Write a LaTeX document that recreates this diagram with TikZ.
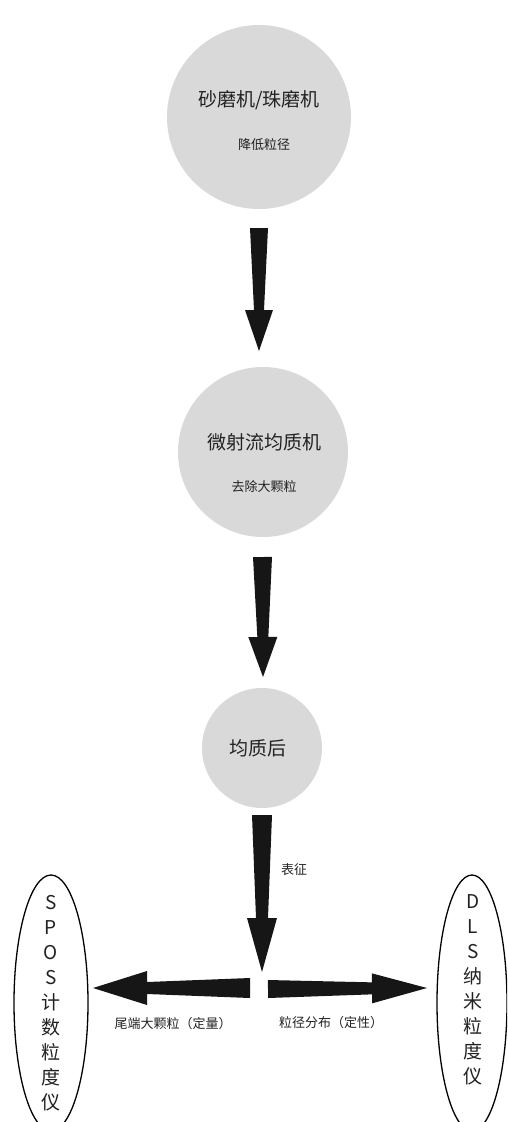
\documentclass[tikz,border=0pt]{standalone}
\usepackage{fontspec}
\setmainfont{Noto Sans CJK SC}
\usetikzlibrary{calc,shapes.geometric}
\definecolor{bubble}{HTML}{D9D9D9}
\definecolor{ink}{HTML}{161616}
\definecolor{txt}{HTML}{222222}
% tapered block arrow: from, to, half-width at start, half-width at head base, head half-width, head length
\newcommand{\blockarrow}[6]{%
  \coordinate (hb) at ($(#2)!#6!(#1)$);
  \fill[arrowfill] ($(#1)!#3!90:(#2)$) -- ($(hb)!#4!90:(#2)$) -- ($(hb)!#5!90:(#2)$) -- (#2)
    -- ($(hb)!#5!-90:(#2)$) -- ($(hb)!#4!-90:(#2)$) -- ($(#1)!#3!-90:(#2)$) -- cycle;}
\begin{document}
\begin{tikzpicture}[x=1pt,y=1pt,
  arrowfill/.style={fill=ink},
  bubblenode/.style={circle,fill=bubble,draw=none,inner sep=0pt},
  title/.style={font=\fontsize{19}{22}\selectfont,text=txt},
  sub/.style={font=\fontsize{13}{15}\selectfont,text=txt},
  instr/.style={ellipse,draw=black,line width=1.3pt,inner sep=0pt,fill=white},
  vtext/.style={font=\fontsize{19}{25}\selectfont,text=txt,align=center}]
\useasboundingbox (0,0) rectangle (507,-1122);
\clip (0,0) rectangle (507,-1122);
% bubbles
\node[bubblenode,minimum size=184pt] (c1) at (259,-117) {};
\node[title] (c1t) at (259,-100) {砂磨机/珠磨机};
\node[sub] (c1s) at (264,-145) {降低粒径};
\node[bubblenode,minimum size=170pt] (c2) at (263,-452) {};
\node[title] (c2t) at (264,-442) {微射流均质机};
\node[sub] (c2s) at (264,-487) {去除大颗粒};
\node[bubblenode,minimum size=120pt] (c3) at (262,-748) {};
\node[title] (c3t) at (258,-748) {均质后};
% instrument ellipses
\node[instr,minimum width=74pt,minimum height=256pt] (spos) at (51,-1003) {};
\node[vtext] (spost) at (51,-1003) {S\\P\\O\\S\\计\\数\\粒\\度\\仪};
\node[instr,minimum width=70pt,minimum height=256pt] (dls) at (472,-1003) {};
\node[vtext] (dlst) at (473,-990) {D\\L\\S\\纳\\米\\粒\\度\\仪};
% arrow endpoints
\coordinate (a1s) at (259,-228);
\coordinate (a1e) at (259,-351);
\coordinate (a2s) at (262.5,-557);
\coordinate (a2e) at (263,-677);
\coordinate (a3s) at (262,-815);
\coordinate (a3e) at (262,-972);
\coordinate (als) at (250,-988);
\coordinate (ale) at (93,-988);
\coordinate (ars) at (268,-989);
\coordinate (are) at (427,-988);
\blockarrow{a1s}{a1e}{9pt}{5pt}{14pt}{41pt}
\blockarrow{a2s}{a2e}{9.5pt}{5.5pt}{14.5pt}{40pt}
\blockarrow{a3s}{a3e}{10pt}{6pt}{15pt}{54pt}
\blockarrow{als}{ale}{10pt}{6pt}{17pt}{54pt}
\blockarrow{ars}{are}{9pt}{6pt}{15pt}{55pt}
% labels
\node[sub] (lbz) at (294,-870) {表征};
\node[sub] (lql) at (173,-1024) {尾端大颗粒（定量）};
\node[sub] (lqr) at (331,-1023) {粒径分布（定性）};
\end{tikzpicture}
\end{document}
